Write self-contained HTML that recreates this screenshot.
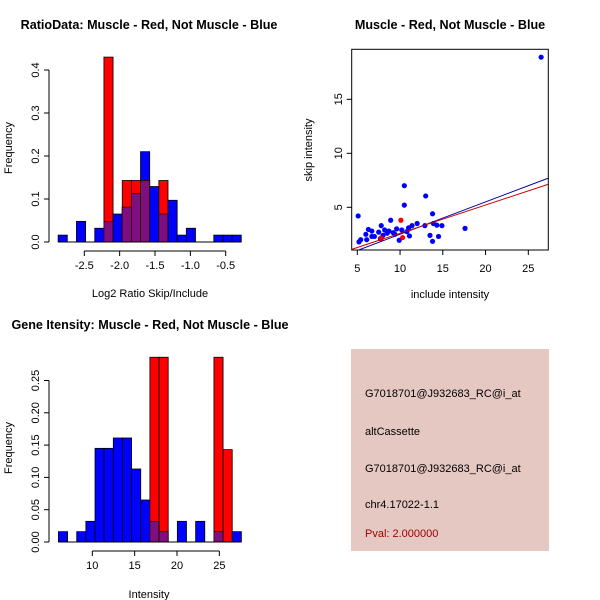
<!DOCTYPE html>
<html><head><meta charset="utf-8"><style>
body{margin:0;background:#fff}
svg{display:block;font-family:"Liberation Sans",Arial,sans-serif}
</style></head><body>
<svg id="c" width="600" height="600" viewBox="0 0 600 600" xmlns="http://www.w3.org/2000/svg">
<text x="149" y="29" font-size="12.6" font-weight="bold" text-anchor="middle">RatioData: Muscle - Red, Not Muscle - Blue</text>
<text x="450" y="29" font-size="12.6" font-weight="bold" text-anchor="middle">Muscle - Red, Not Muscle - Blue</text>
<text x="150" y="329" font-size="12.6" font-weight="bold" text-anchor="middle">Gene Itensity: Muscle - Red, Not Muscle - Blue</text>
<text x="150" y="297" font-size="11" text-anchor="middle">Log2 Ratio Skip/Include</text>
<text x="149" y="598" font-size="11" text-anchor="middle">Intensity</text>
<text x="450" y="298" font-size="11" text-anchor="middle">include intensity</text>
<text transform="translate(12,148) rotate(-90)" font-size="11" text-anchor="middle">Frequency</text>
<text transform="translate(12,448) rotate(-90)" font-size="11" text-anchor="middle">Frequency</text>
<text transform="translate(312,150) rotate(-90)" font-size="11" text-anchor="middle">skip intensity</text>
<g id="g1"></g>
<g id="g2"></g>
<g id="g3"></g>
<rect x="351" y="349" width="198" height="202" fill="#e6c8c2"/>
<g font-size="11">
<text x="365" y="397">G7018701@J932683_RC@i_at</text>
<text x="365" y="435">altCassette</text>
<text x="365" y="472">G7018701@J932683_RC@i_at</text>
<text x="365" y="508">chr4.17022-1.1</text>
<text x="365" y="537" fill="#a00000">Pval: 2.000000</text>
</g>
</svg>
<script>
const ratioBinStart=-2.87, ratioBinWidth=0.1295;
const ratioBlue=[0.016,0,0.048,0,0.032,0.048,0.065,0.081,0.113,0.21,0.129,0.065,0.097,0.016,0.032,0,0,0.016,0.016,0.016];
const ratioRed=[0,0,0,0,0,0.43,0,0.143,0.143,0.143,0,0.143,0,0,0,0,0,0,0,0];
const ratioXTicks=[-2.5,-2.0,-1.5,-1.0,-0.5];
const ratioXLabels=["-2.5","-2.0","-1.5","-1.0","-0.5"];
const ratioYTicks=[0,0.1,0.2,0.3,0.4];
const ratioYLabels=["0.0","0.1","0.2","0.3","0.4"];

const intBinStart=6, intBinWidth=1.08;
const intBlue=[0.016,0,0.016,0.032,0.145,0.145,0.161,0.161,0.113,0.065,0.032,0.016,0,0.032,0,0.032,0,0.016,0,0.016];
const intRed=[0,0,0,0,0,0,0,0,0,0,0.286,0.286,0,0,0,0,0,0.286,0.143,0];
const intXTicks=[10,15,20,25];
const intXLabels=["10","15","20","25"];
const intYTicks=[0,0.05,0.10,0.15,0.20,0.25];
const intYLabels=["0.00","0.05","0.10","0.15","0.20","0.25"];

const blueX=[26.5,5.1,10.5,10.5,13.0,13.8,8.9,17.6,5.2,5.4,6.0,6.3,6.7,7.0,7.5,7.8,8.2,8.5,9.2,9.6,9.9,10.2,10.8,11.0,11.1,11.4,12.0,12.9,13.5,13.8,13.9,14.3,14.9,14.5,6.7,6.1,7.7,8.0,8.7,9.4];
const blueY=[18.9,4.2,7.0,5.2,6.05,4.4,3.8,3.05,1.8,2.0,2.5,2.95,2.8,2.3,2.7,3.3,2.9,2.6,2.65,3.0,1.95,2.9,2.75,3.1,2.35,3.3,3.5,3.3,2.4,1.85,3.5,3.35,3.3,2.3,2.3,2.0,2.1,2.4,2.8,2.5];
const redX=[10.1,10.3,7.8];
const redY=[3.8,2.2,2.1];
const blueFit=[-0.5,0.30];
const redFit=[-0.03,0.262];
const scXTicks=[5,10,15,20,25];
const scYTicks=[5,10,15];

const NS="http://www.w3.org/2000/svg";
function mk(parent,tag,attrs){const e=document.createElementNS(NS,tag);for(const k in attrs)e.setAttribute(k,attrs[k]);parent.appendChild(e);return e;}

function hist(g,binStart,binW,blue,red,xTicks,xLabels,yTicks,yLabels,sx,sy,axY,axX){
  for(let i=0;i<blue.length;i++){
    const x0=sx(binStart+i*binW), x1=sx(binStart+(i+1)*binW);
    const b=blue[i], r=red[i];
    if(b>0){const e=mk(g,'rect',{x:x0,y:sy(b),width:x1-x0,height:sy(0)-sy(b),fill:'#0000ff',stroke:'#000','stroke-width':0.8});
      }
    if(r>0){const e=mk(g,'rect',{x:x0,y:sy(r),width:x1-x0,height:sy(0)-sy(r),fill:'#ff0000',stroke:'#000','stroke-width':0.8});
      }
    const m=Math.min(b,r);
    if(m>0){const e=mk(g,'rect',{x:x0,y:sy(m),width:x1-x0,height:sy(0)-sy(m),fill:'#7f0f80',stroke:'#300','stroke-width':0.8});
      }
  }
  const bl=mk(g,'line',{x1:sx(binStart),x2:sx(binStart+blue.length*binW),y1:sy(0),y2:sy(0),stroke:'#000'});
  
  const xa=mk(g,'line',{x1:sx(xTicks[0]),x2:sx(xTicks[xTicks.length-1]),y1:axY,y2:axY,stroke:'#000'});
  
  xTicks.forEach((t,i)=>{
    mk(g,'line',{x1:sx(t),x2:sx(t),y1:axY,y2:axY+5,stroke:'#000'});
    const tx=mk(g,'text',{x:sx(t),y:axY+18,'font-size':11,'text-anchor':'middle'});tx.textContent=xLabels[i];
    
  });
  const ya=mk(g,'line',{x1:axX,x2:axX,y1:sy(yTicks[0]),y2:sy(yTicks[yTicks.length-1]),stroke:'#000'});
  
  yTicks.forEach((t,i)=>{
    mk(g,'line',{x1:axX-5,x2:axX,y1:sy(t),y2:sy(t),stroke:'#000'});
    const tx=mk(g,'text',{transform:`translate(${axX-10},${sy(t)}) rotate(-90)`,'font-size':11,'text-anchor':'middle'});tx.textContent=yLabels[i];
    
  });
}
hist(document.getElementById('g1'),ratioBinStart,ratioBinWidth,ratioBlue,ratioRed,ratioXTicks,ratioXLabels,ratioYTicks,ratioYLabels,
  v=>84.3+(v+2.5)*70.7, v=>242-v*430, 251, 49);
hist(document.getElementById('g2'),intBinStart,intBinWidth,intBlue,intRed,intXTicks,intXLabels,intYTicks,intYLabels,
  v=>92.3+(v-10)*8.47, v=>542-v*646, 551, 49);

(function(){
  const g=document.getElementById('g3');
  const sx=v=>357.3+(v-5)*8.55, sy=v=>207.3-(v-5)*10.8;
  const x0=4.34,x1=27.3;
  const box=mk(g,'rect',{x:351.7,y:49.3,width:196.6,height:200.7,fill:'none',stroke:'#000'});
  
  const cp=mk(g,'clipPath',{id:'cp'});mk(cp,'rect',{x:351.7,y:49.3,width:196.6,height:200.7});
  const lines=mk(g,'g',{'clip-path':'url(#cp)'});
  blueX.forEach((x,i)=>{const c=mk(lines,'circle',{cx:sx(x),cy:sy(blueY[i]),r:2.6,fill:'#0000ff'});
    });
  redX.forEach((x,i)=>{const c=mk(lines,'circle',{cx:sx(x),cy:sy(redY[i]),r:2.6,fill:'#ff0000'});
    });
  const bl=mk(lines,'line',{x1:sx(x0),y1:sy(blueFit[0]+blueFit[1]*x0),x2:sx(x1),y2:sy(blueFit[0]+blueFit[1]*x1),stroke:'#0000aa'});
  
  const rl=mk(lines,'line',{x1:sx(x0),y1:sy(redFit[0]+redFit[1]*x0),x2:sx(x1),y2:sy(redFit[0]+redFit[1]*x1),stroke:'#cc0000'});
  
  scXTicks.forEach(t=>{mk(g,'line',{x1:sx(t),x2:sx(t),y1:250,y2:255,stroke:'#000'});
    const tx=mk(g,'text',{x:sx(t),y:272,'font-size':11,'text-anchor':'middle'});tx.textContent=t;
    });
  scYTicks.forEach(t=>{mk(g,'line',{x1:346.7,x2:351.7,y1:sy(t),y2:sy(t),stroke:'#000'});
    const tx=mk(g,'text',{transform:`translate(${342},${sy(t)}) rotate(-90)`,'font-size':11,'text-anchor':'middle'});tx.textContent=t;
    });
})();
</script>
</body></html>
